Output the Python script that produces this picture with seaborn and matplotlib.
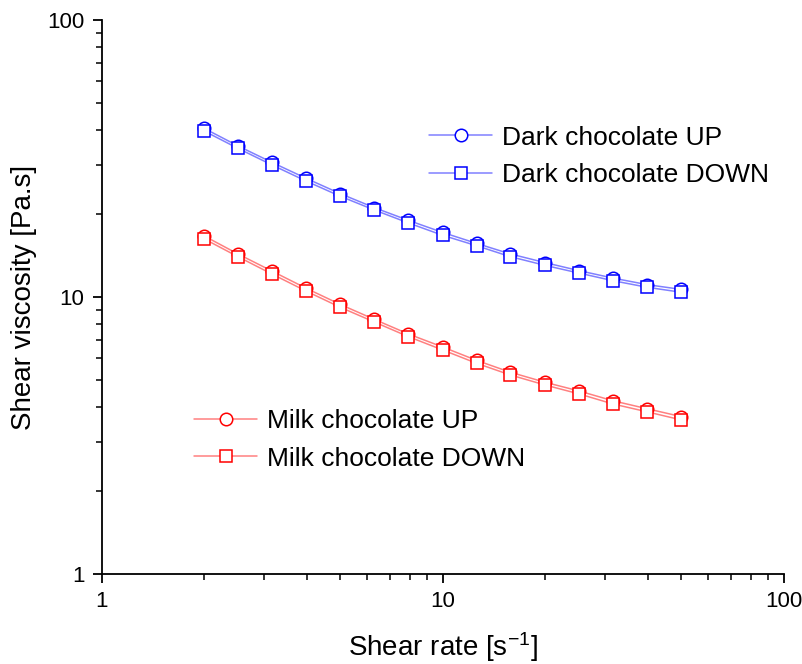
import numpy as np
import pandas as pd
import matplotlib
matplotlib.use('Agg')
import matplotlib.pyplot as plt
from matplotlib.lines import Line2D
from matplotlib.ticker import LogLocator, NullFormatter, FixedLocator, FixedFormatter
import seaborn as sns

shear_rate = [2.0, 2.51, 3.16, 3.98, 5.01, 6.31, 7.94, 10.0, 12.6, 15.8, 20.0, 25.1, 31.6, 39.8, 50.1]
dark_up = [40.6, 35.1, 30.6, 26.8, 23.6, 21.0, 18.9, 17.1, 15.6, 14.3, 13.3, 12.45, 11.7, 11.08, 10.65]
dark_down = [39.7, 34.4, 29.96, 26.2, 23.1, 20.6, 18.5, 16.7, 15.3, 13.98, 13.0, 12.2, 11.45, 10.84, 10.4]
milk_up = [16.6, 14.3, 12.4, 10.75, 9.4, 8.3, 7.35, 6.6, 5.9, 5.35, 4.92, 4.58, 4.22, 3.95, 3.7]
milk_down = [16.2, 13.98, 12.1, 10.5, 9.18, 8.12, 7.19, 6.44, 5.76, 5.23, 4.81, 4.47, 4.11, 3.85, 3.6]

series = {
    'Dark chocolate UP': dark_up,
    'Dark chocolate DOWN': dark_down,
    'Milk chocolate UP': milk_up,
    'Milk chocolate DOWN': milk_down,
}
df = pd.concat(
    [pd.DataFrame({'rate': shear_rate, 'visc': v, 'series': k}) for k, v in series.items()],
    ignore_index=True,
)

sns.set_theme(style='ticks', rc={'axes.edgecolor': 'black', 'text.color': 'black',
                                 'axes.labelcolor': 'black', 'xtick.color': 'black',
                                 'ytick.color': 'black'})
plt.rcParams['font.family'] = ['Liberation Sans', 'DejaVu Sans']
plt.rcParams['mathtext.default'] = 'regular'

styles = {
    'Dark chocolate UP': ('#8080ff', '#0000ff', 'o'),
    'Dark chocolate DOWN': ('#8080ff', '#0000ff', 's'),
    'Milk chocolate UP': ('#ff8080', '#ff0000', 'o'),
    'Milk chocolate DOWN': ('#ff8080', '#ff0000', 's'),
}

fig = plt.figure(figsize=(8.02, 6.64), dpi=100)
ax = fig.add_axes([0.1267, 0.1355, 0.8503, 0.8345])

handles = {}
for name, g in df.groupby('series', sort=False):
    lc, mc, mk = styles[name]
    sns.lineplot(data=g, x='rate', y='visc', ax=ax, color=lc, marker=mk,
                 markersize=9, markerfacecolor='white', markeredgecolor=mc,
                 markeredgewidth=1.1, linewidth=1.1, legend=False)
    handles[name] = Line2D([], [], color=lc, marker=mk, markersize=9,
                           markerfacecolor='white', markeredgecolor=mc,
                           markeredgewidth=1.1, linewidth=1.1)

ax.set_xscale('log')
ax.set_yscale('log')
ax.set_xlim(1, 100)
ax.set_ylim(1, 100)
for a in (ax.xaxis, ax.yaxis):
    a.set_major_locator(FixedLocator([1, 10, 100]))
    a.set_major_formatter(FixedFormatter(['1', '10', '100']))
    a.set_minor_locator(LogLocator(base=10, subs=np.arange(2, 10)))
    a.set_minor_formatter(NullFormatter())

sns.despine(ax=ax)
ax.spines['left'].set_linewidth(1.3)
ax.spines['bottom'].set_linewidth(1.3)
ax.tick_params(which='major', direction='out', length=6.5, width=1.3, labelsize=16, pad=6)
ax.tick_params(which='minor', direction='out', length=4, width=1.1)

ax.set_xlabel('Shear rate [s$^{-1}$]', fontsize=20, labelpad=13)
ax.set_ylabel('Shear viscosity [Pa.s]', fontsize=20, labelpad=7)

leg_kw = dict(frameon=False, fontsize=19, handlelength=2.4, handletextpad=0.38,
              labelspacing=0.5, borderpad=0, borderaxespad=0, loc='center left')
dark_names = ['Dark chocolate UP', 'Dark chocolate DOWN']
milk_names = ['Milk chocolate UP', 'Milk chocolate DOWN']
leg1 = ax.legend([handles[n] for n in dark_names], dark_names,
                 bbox_to_anchor=(0.48, 0.754), **leg_kw)
ax.add_artist(leg1)
ax.legend([handles[n] for n in milk_names], milk_names,
          bbox_to_anchor=(0.1355, 0.242), **leg_kw)

fig.savefig('out.png', dpi=100)
